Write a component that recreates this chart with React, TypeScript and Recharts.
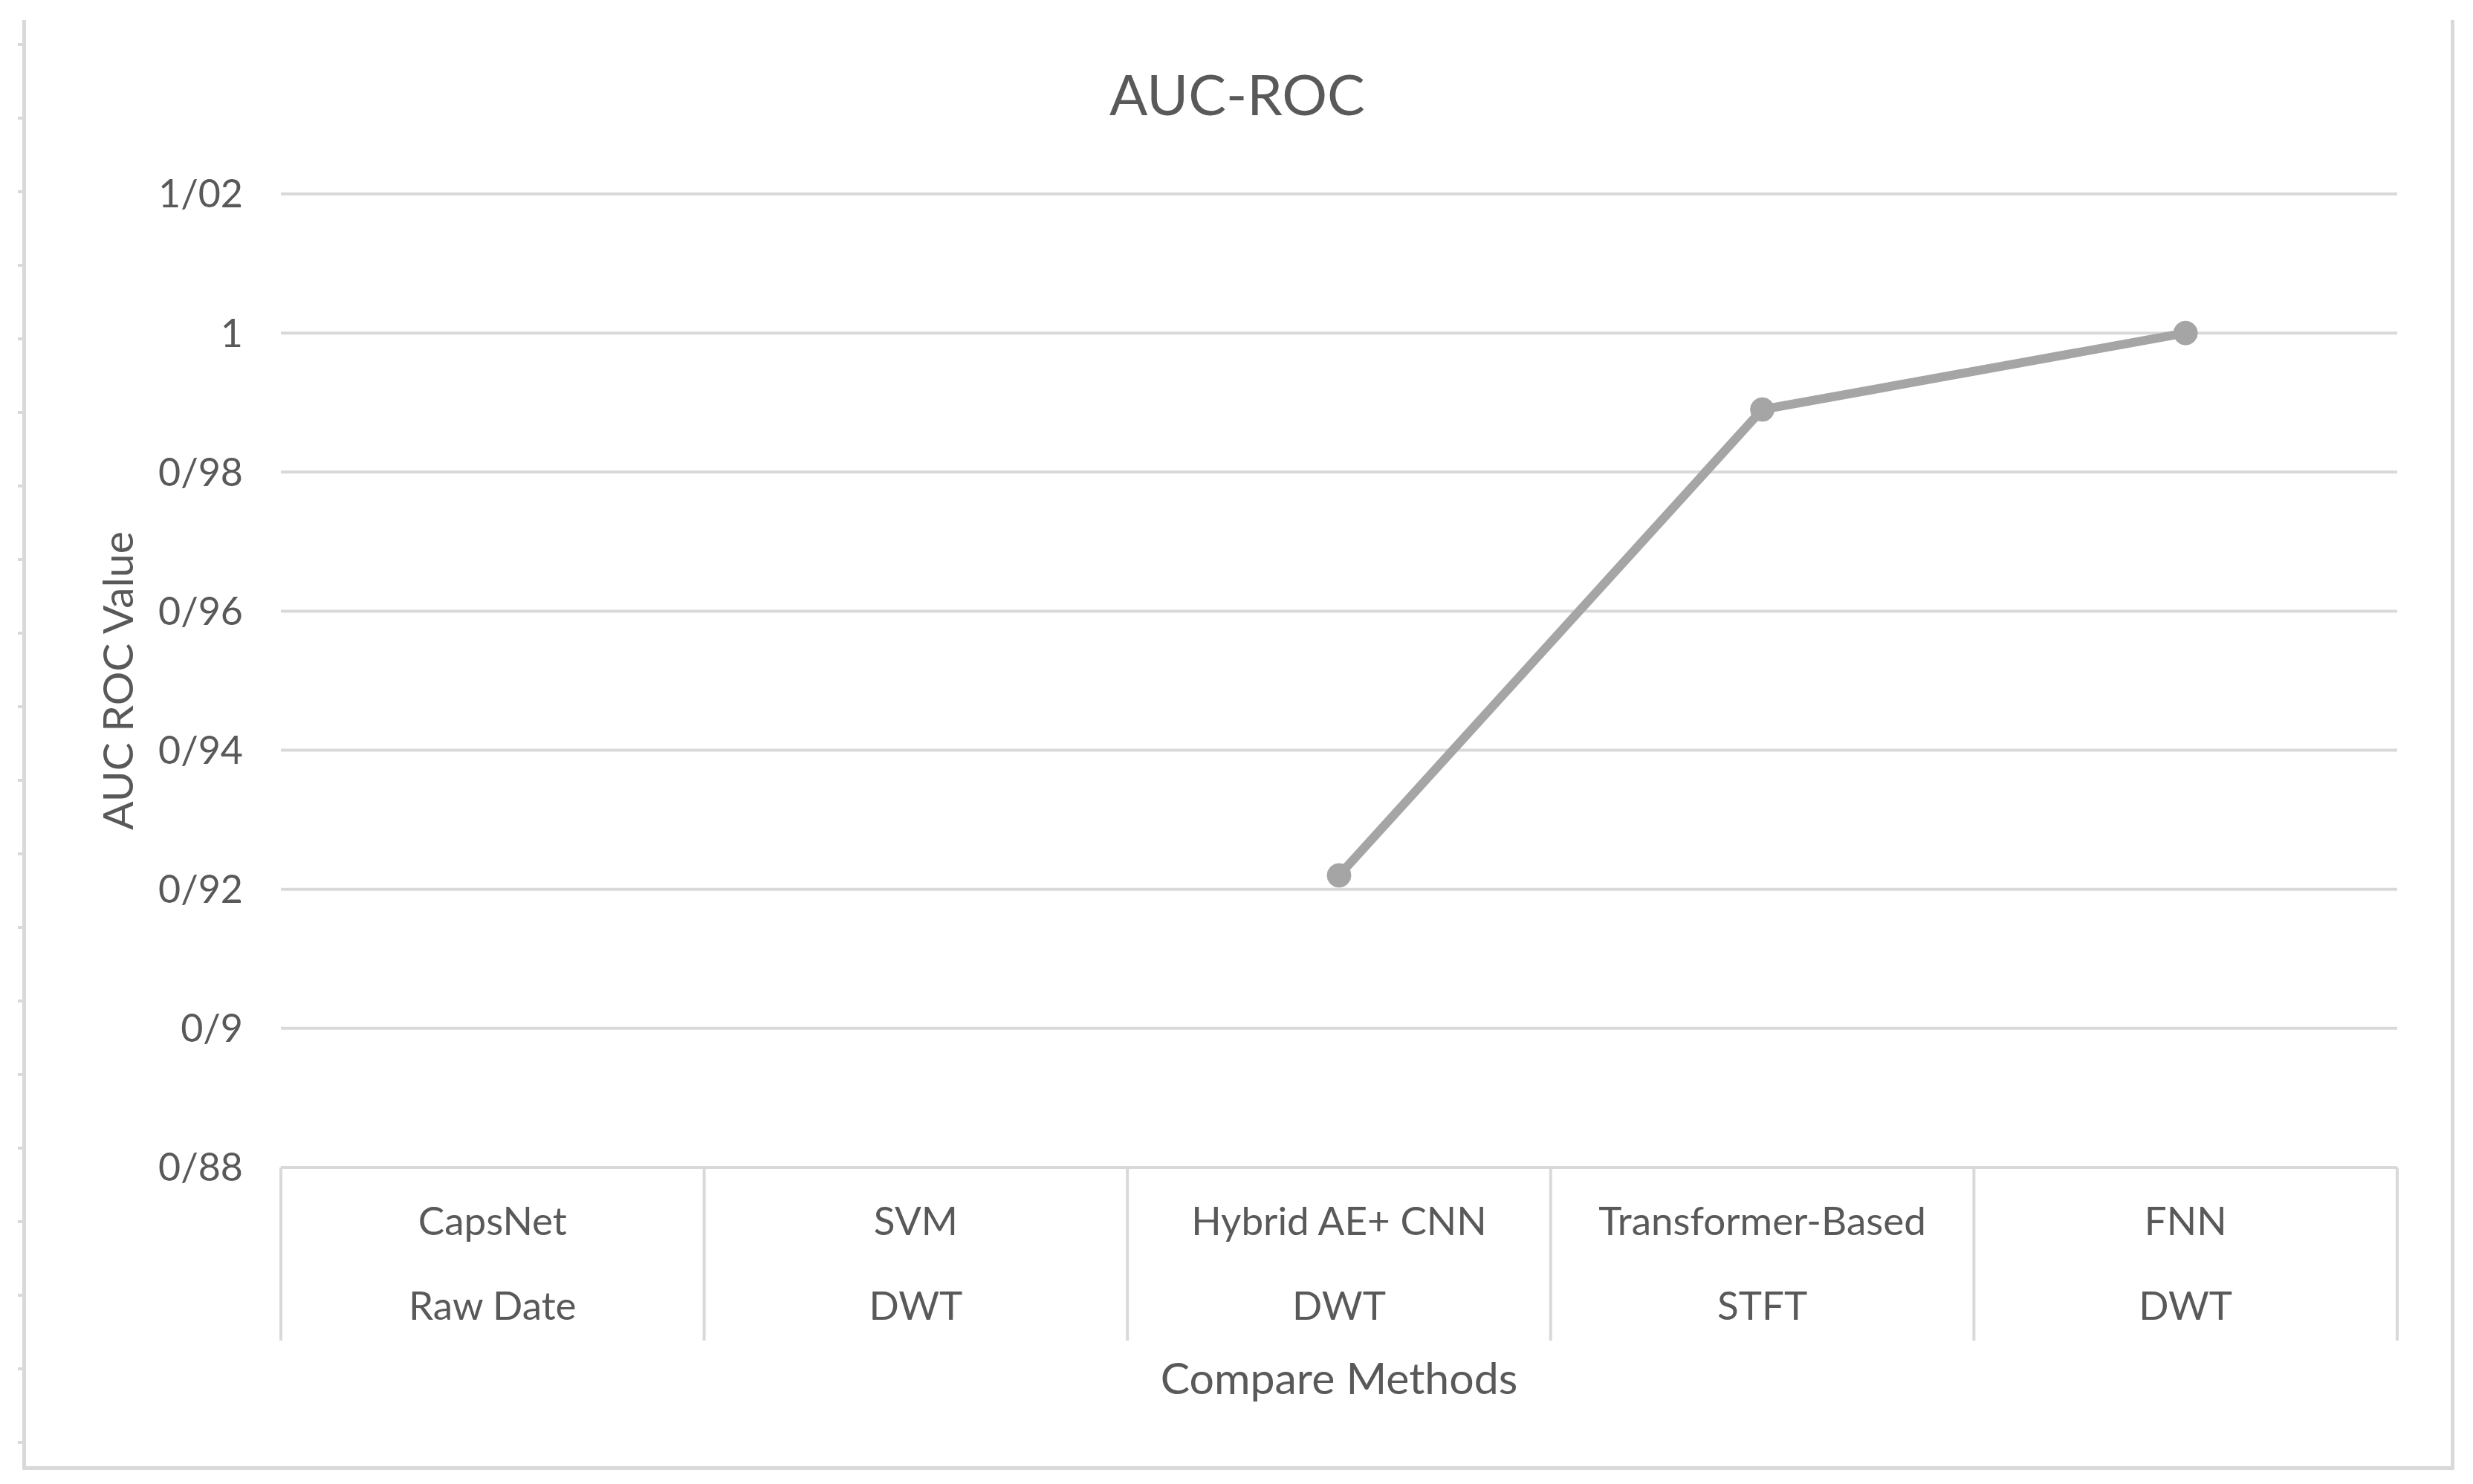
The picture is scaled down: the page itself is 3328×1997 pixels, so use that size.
import React from 'react';
import { LineChart, Line, XAxis, YAxis, CartesianGrid, Label } from 'recharts';

const methods = ['CapsNet', 'SVM', 'Hybrid AE+ CNN', 'Transformer-Based', 'FNN'];
const features = ['Raw Date', 'DWT', 'DWT', 'STFT', 'DWT'];
const aucValues: (number | null)[] = [null, null, 0.922, 0.989, 1.0];
const yTicks = [0.88, 0.9, 0.92, 0.94, 0.96, 0.98, 1, 1.02];
const yTickLabels = ['0/88', '0/9', '0/92', '0/94', '0/96', '0/98', '1', '1/02'];

const data = methods.map((m, i) => ({ method: m, feature: features[i], auc: aucValues[i] }));

const W = 3328;
const H = 1997;
const PLOT_LEFT = 378;
const PLOT_RIGHT = 3226;
const PLOT_TOP = 261;
const PLOT_BOTTOM = 1571;
const BAND = (PLOT_RIGHT - PLOT_LEFT) / methods.length;
const FONT = 'Lato, "Open Sans", sans-serif';
const TEXT = '#595959';
const GRID = '#d9d9d9';

function CategoryTick(props: any) {
  const { x, y, index } = props;
  const half = BAND / 2;
  const isLast = index === methods.length - 1;
  return (
    <g>
      <line x1={x - half} x2={x - half} y1={y} y2={y + 233} stroke={GRID} strokeWidth={4} />
      {isLast && <line x1={x + half} x2={x + half} y1={y} y2={y + 233} stroke={GRID} strokeWidth={4} />}
      <text x={x} y={y + 72} dy="0.35em" textAnchor="middle" fill={TEXT} fontSize={53} fontFamily={FONT}>
        {methods[index]}
      </text>
      <text x={x} y={y + 186} dy="0.35em" textAnchor="middle" fill={TEXT} fontSize={53} fontFamily={FONT}>
        {features[index]}
      </text>
    </g>
  );
}

export default function App() {
  return (
    <div style={{ position: 'absolute', left: 0, top: 0, width: W, height: H, background: '#fff', fontFamily: FONT }}>
      <div
        style={{
          position: 'absolute',
          left: 30,
          top: 27,
          width: 3263,
          height: 1946,
          borderLeft: `5px solid ${GRID}`,
          borderRight: `5px solid ${GRID}`,
          borderBottom: `5px solid ${GRID}`,
        }}
      />
      <div
        style={{
          position: 'absolute',
          left: 24,
          top: 27,
          width: 7,
          height: 1946,
          background: `repeating-linear-gradient(to bottom, transparent 0px, transparent 31px, ${GRID} 31px, ${GRID} 35px, transparent 35px, transparent 99px)`,
        }}
      />
      <div
        style={{
          position: 'absolute',
          left: 0,
          width: 3330,
          top: 80,
          textAlign: 'center',
          fontSize: 76,
          color: TEXT,
          lineHeight: '92px',
        }}
      >
        AUC-ROC
      </div>
      <div style={{ position: 'absolute', left: 0, top: 0 }}>
        <LineChart width={W} height={H} data={data} margin={{ top: PLOT_TOP, right: W - PLOT_RIGHT, left: 0, bottom: 0 }}>
          <CartesianGrid vertical={false} stroke={GRID} strokeWidth={4} />
          <XAxis
            dataKey="method"
            height={H - PLOT_BOTTOM}
            padding={{ left: BAND / 2, right: BAND / 2 }}
            axisLine={{ stroke: GRID, strokeWidth: 4 }}
            tickLine={false}
            tickSize={0}
            tickMargin={0}
            interval={0}
            tick={<CategoryTick />}
          >
            <Label
              content={(p: any) => {
                const vb = p.viewBox || {};
                return (
                  <text x={vb.x + vb.width / 2} y={vb.y + 284} dy="0.35em" textAnchor="middle" fill={TEXT} fontSize={59} fontFamily={FONT}>
                    Compare Methods
                  </text>
                );
              }}
            />
          </XAxis>
          <YAxis
            width={PLOT_LEFT}
            domain={[0.88, 1.02]}
            ticks={yTicks}
            allowDataOverflow
            axisLine={false}
            tickLine={false}
            tickMargin={45}
            tick={{ fill: TEXT, fontSize: 52, fontFamily: FONT }}
            tickFormatter={(v: number) => yTickLabels[yTicks.findIndex((t) => Math.abs(t - v) < 1e-9)] ?? String(v)}
          >
            <Label
              content={(p: any) => {
                const vb = p.viewBox || {};
                const cx = 159;
                const cy = vb.y + vb.height / 2;
                return (
                  <text x={cx} y={cy} dy="0.35em" textAnchor="middle" fill={TEXT} fontSize={57} fontFamily={FONT} transform={`rotate(-90, ${cx}, ${cy})`}>
                    AUC ROC Value
                  </text>
                );
              }}
            />
          </YAxis>
          <Line
            type="linear"
            dataKey="auc"
            stroke="#a5a5a5"
            strokeWidth={12}
            connectNulls={false}
            dot={{ r: 16, fill: '#a5a5a5', stroke: '#a5a5a5', strokeWidth: 1 }}
            activeDot={false}
            isAnimationActive={false}
          />
        </LineChart>
      </div>
    </div>
  );
}
